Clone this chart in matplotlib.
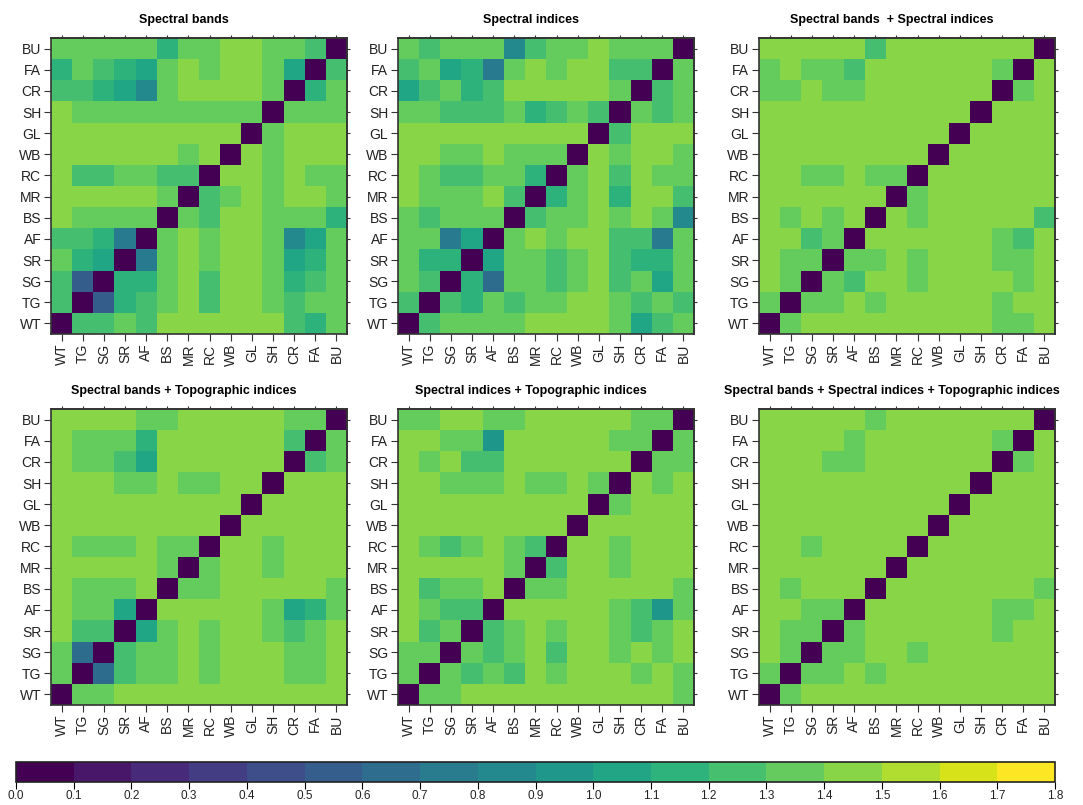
import numpy as np
import matplotlib.pyplot as plt
from matplotlib.colors import ListedColormap, BoundaryNorm

plt.rcParams['font.family'] = ['Liberation Sans', 'DejaVu Sans']

classes = ["WT", "TG", "SG", "SR", "AF", "BS", "MR", "RC", "WB", "GL", "SH", "CR", "FA", "BU"]

titles = ["Spectral bands", "Spectral indices", "Spectral bands  + Spectral indices",
          "Spectral bands + Topographic indices", "Spectral indices + Topographic indices",
          "Spectral bands + Spectral indices + Topographic indices"]

# rows listed top to bottom: BU, FA, CR, SH, GL, WB, RC, MR, BS, AF, SR, SG, TG, WT
bands = [
    [1.35, 1.35, 1.35, 1.35, 1.35, 1.15, 1.35, 1.35, 1.45, 1.45, 1.35, 1.35, 1.25, 0.05],
    [1.15, 1.35, 1.25, 1.15, 1.05, 1.35, 1.45, 1.35, 1.45, 1.45, 1.35, 1.05, 0.05, 1.25],
    [1.25, 1.25, 1.15, 1.05, 0.85, 1.35, 1.45, 1.45, 1.45, 1.45, 1.35, 0.05, 1.15, 1.35],
    [1.45, 1.35, 1.35, 1.35, 1.35, 1.35, 1.35, 1.35, 1.35, 1.35, 0.05, 1.35, 1.35, 1.35],
    [1.45, 1.45, 1.45, 1.45, 1.45, 1.45, 1.45, 1.45, 1.45, 0.05, 1.35, 1.45, 1.45, 1.45],
    [1.45, 1.45, 1.45, 1.45, 1.45, 1.45, 1.35, 1.45, 0.05, 1.45, 1.35, 1.45, 1.45, 1.45],
    [1.45, 1.25, 1.25, 1.35, 1.35, 1.25, 1.25, 0.05, 1.45, 1.45, 1.35, 1.45, 1.35, 1.35],
    [1.45, 1.45, 1.45, 1.45, 1.45, 1.35, 0.05, 1.25, 1.35, 1.45, 1.35, 1.45, 1.45, 1.35],
    [1.45, 1.35, 1.35, 1.35, 1.35, 0.05, 1.35, 1.25, 1.45, 1.45, 1.35, 1.35, 1.35, 1.15],
    [1.25, 1.25, 1.15, 0.75, 0.05, 1.35, 1.45, 1.35, 1.45, 1.45, 1.35, 0.85, 1.05, 1.35],
    [1.35, 1.15, 1.05, 0.05, 0.75, 1.35, 1.45, 1.35, 1.45, 1.45, 1.35, 1.05, 1.15, 1.35],
    [1.25, 0.55, 0.05, 1.15, 1.15, 1.35, 1.45, 1.25, 1.45, 1.45, 1.35, 1.15, 1.25, 1.35],
    [1.25, 0.05, 0.55, 1.15, 1.25, 1.35, 1.45, 1.25, 1.45, 1.45, 1.35, 1.25, 1.35, 1.35],
    [0.05, 1.25, 1.25, 1.35, 1.25, 1.45, 1.45, 1.45, 1.45, 1.45, 1.45, 1.25, 1.15, 1.35],
]

indices = [
    [1.35, 1.25, 1.35, 1.35, 1.35, 0.85, 1.25, 1.35, 1.35, 1.45, 1.35, 1.35, 1.35, 0.05],
    [1.25, 1.35, 1.05, 1.15, 0.75, 1.35, 1.45, 1.35, 1.45, 1.45, 1.25, 1.25, 0.05, 1.35],
    [1.05, 1.25, 1.35, 1.15, 1.25, 1.45, 1.45, 1.45, 1.45, 1.45, 1.35, 0.05, 1.25, 1.35],
    [1.35, 1.35, 1.25, 1.25, 1.25, 1.35, 1.15, 1.25, 1.35, 1.25, 0.05, 1.35, 1.25, 1.35],
    [1.45, 1.45, 1.45, 1.45, 1.45, 1.45, 1.45, 1.45, 1.45, 0.05, 1.25, 1.45, 1.45, 1.45],
    [1.45, 1.45, 1.35, 1.35, 1.45, 1.35, 1.35, 1.35, 0.05, 1.45, 1.35, 1.45, 1.45, 1.35],
    [1.45, 1.35, 1.25, 1.25, 1.35, 1.35, 1.15, 0.05, 1.35, 1.45, 1.25, 1.45, 1.35, 1.35],
    [1.45, 1.35, 1.35, 1.35, 1.45, 1.25, 0.05, 1.15, 1.35, 1.45, 1.15, 1.45, 1.45, 1.25],
    [1.35, 1.25, 1.35, 1.35, 1.35, 0.05, 1.25, 1.35, 1.35, 1.45, 1.35, 1.45, 1.35, 0.85],
    [1.35, 1.35, 0.75, 1.05, 0.05, 1.35, 1.45, 1.35, 1.45, 1.45, 1.25, 1.25, 0.75, 1.35],
    [1.35, 1.15, 1.15, 0.05, 1.05, 1.35, 1.35, 1.25, 1.35, 1.45, 1.25, 1.15, 1.15, 1.35],
    [1.35, 1.25, 0.05, 1.15, 0.65, 1.35, 1.35, 1.25, 1.35, 1.45, 1.25, 1.35, 1.05, 1.35],
    [1.25, 0.05, 1.25, 1.15, 1.35, 1.25, 1.35, 1.35, 1.45, 1.45, 1.35, 1.25, 1.35, 1.25],
    [0.05, 1.25, 1.35, 1.35, 1.35, 1.35, 1.45, 1.45, 1.45, 1.45, 1.35, 1.05, 1.25, 1.35],
]

bands_indices = [
    [1.45, 1.45, 1.45, 1.45, 1.45, 1.25, 1.45, 1.45, 1.45, 1.45, 1.45, 1.45, 1.45, 0.05],
    [1.35, 1.45, 1.35, 1.35, 1.25, 1.45, 1.45, 1.45, 1.45, 1.45, 1.45, 1.35, 0.05, 1.45],
    [1.35, 1.35, 1.45, 1.35, 1.35, 1.45, 1.45, 1.45, 1.45, 1.45, 1.45, 0.05, 1.35, 1.45],
    [1.45, 1.45, 1.45, 1.45, 1.45, 1.45, 1.45, 1.45, 1.45, 1.45, 0.05, 1.45, 1.45, 1.45],
    [1.45, 1.45, 1.45, 1.45, 1.45, 1.45, 1.45, 1.45, 1.45, 0.05, 1.45, 1.45, 1.45, 1.45],
    [1.45, 1.45, 1.45, 1.45, 1.45, 1.45, 1.45, 1.45, 0.05, 1.45, 1.45, 1.45, 1.45, 1.45],
    [1.45, 1.45, 1.35, 1.35, 1.45, 1.35, 1.35, 0.05, 1.45, 1.45, 1.45, 1.45, 1.45, 1.45],
    [1.45, 1.45, 1.45, 1.45, 1.45, 1.45, 0.05, 1.35, 1.45, 1.45, 1.45, 1.45, 1.45, 1.45],
    [1.45, 1.35, 1.45, 1.35, 1.45, 0.05, 1.45, 1.35, 1.45, 1.45, 1.45, 1.45, 1.45, 1.25],
    [1.45, 1.45, 1.25, 1.35, 0.05, 1.45, 1.45, 1.45, 1.45, 1.45, 1.45, 1.35, 1.25, 1.45],
    [1.45, 1.35, 1.35, 0.05, 1.35, 1.35, 1.45, 1.35, 1.45, 1.45, 1.45, 1.35, 1.35, 1.45],
    [1.45, 1.35, 0.05, 1.35, 1.25, 1.45, 1.45, 1.35, 1.45, 1.45, 1.45, 1.45, 1.35, 1.45],
    [1.35, 0.05, 1.35, 1.35, 1.45, 1.35, 1.45, 1.45, 1.45, 1.45, 1.45, 1.35, 1.45, 1.45],
    [0.05, 1.35, 1.45, 1.45, 1.45, 1.45, 1.45, 1.45, 1.45, 1.45, 1.45, 1.35, 1.35, 1.45],
]

bands_topo = [
    [1.45, 1.45, 1.45, 1.45, 1.35, 1.35, 1.45, 1.45, 1.45, 1.45, 1.45, 1.35, 1.35, 0.05],
    [1.45, 1.35, 1.35, 1.35, 1.15, 1.45, 1.45, 1.45, 1.45, 1.45, 1.45, 1.25, 0.05, 1.35],
    [1.45, 1.35, 1.35, 1.25, 1.05, 1.45, 1.45, 1.45, 1.45, 1.45, 1.45, 0.05, 1.25, 1.35],
    [1.45, 1.45, 1.45, 1.35, 1.35, 1.45, 1.35, 1.35, 1.45, 1.45, 0.05, 1.45, 1.45, 1.45],
    [1.45, 1.45, 1.45, 1.45, 1.45, 1.45, 1.45, 1.45, 1.45, 0.05, 1.45, 1.45, 1.45, 1.45],
    [1.45, 1.45, 1.45, 1.45, 1.45, 1.45, 1.45, 1.45, 0.05, 1.45, 1.45, 1.45, 1.45, 1.45],
    [1.45, 1.35, 1.35, 1.35, 1.45, 1.35, 1.35, 0.05, 1.45, 1.45, 1.35, 1.45, 1.45, 1.45],
    [1.45, 1.45, 1.45, 1.45, 1.45, 1.35, 0.05, 1.35, 1.45, 1.45, 1.35, 1.45, 1.45, 1.45],
    [1.45, 1.35, 1.35, 1.35, 1.45, 0.05, 1.35, 1.35, 1.45, 1.45, 1.45, 1.45, 1.45, 1.35],
    [1.45, 1.35, 1.35, 1.05, 0.05, 1.45, 1.45, 1.45, 1.45, 1.45, 1.35, 1.05, 1.15, 1.35],
    [1.45, 1.25, 1.25, 0.05, 1.05, 1.35, 1.45, 1.35, 1.45, 1.45, 1.35, 1.25, 1.35, 1.45],
    [1.35, 0.65, 0.05, 1.25, 1.35, 1.35, 1.45, 1.35, 1.45, 1.45, 1.45, 1.35, 1.35, 1.45],
    [1.35, 0.05, 0.65, 1.25, 1.35, 1.35, 1.45, 1.35, 1.45, 1.45, 1.45, 1.35, 1.35, 1.45],
    [0.05, 1.35, 1.35, 1.45, 1.45, 1.45, 1.45, 1.45, 1.45, 1.45, 1.45, 1.45, 1.45, 1.45],
]

indices_topo = [
    [1.35, 1.35, 1.45, 1.45, 1.35, 1.35, 1.45, 1.45, 1.45, 1.45, 1.45, 1.35, 1.35, 0.05],
    [1.45, 1.45, 1.35, 1.35, 0.95, 1.45, 1.45, 1.45, 1.45, 1.45, 1.35, 1.35, 0.05, 1.35],
    [1.45, 1.35, 1.45, 1.25, 1.25, 1.45, 1.45, 1.45, 1.45, 1.45, 1.45, 0.05, 1.35, 1.35],
    [1.45, 1.45, 1.35, 1.35, 1.35, 1.45, 1.35, 1.35, 1.45, 1.35, 0.05, 1.45, 1.35, 1.45],
    [1.45, 1.45, 1.45, 1.45, 1.45, 1.45, 1.45, 1.45, 1.45, 0.05, 1.35, 1.45, 1.45, 1.45],
    [1.45, 1.45, 1.45, 1.45, 1.45, 1.45, 1.45, 1.45, 0.05, 1.45, 1.45, 1.45, 1.45, 1.45],
    [1.45, 1.35, 1.25, 1.35, 1.45, 1.35, 1.25, 0.05, 1.45, 1.45, 1.35, 1.45, 1.45, 1.45],
    [1.45, 1.45, 1.45, 1.45, 1.45, 1.35, 0.05, 1.25, 1.45, 1.45, 1.35, 1.45, 1.45, 1.45],
    [1.45, 1.25, 1.35, 1.35, 1.45, 0.05, 1.35, 1.35, 1.45, 1.45, 1.45, 1.45, 1.45, 1.35],
    [1.45, 1.35, 1.25, 1.25, 0.05, 1.45, 1.45, 1.45, 1.45, 1.45, 1.35, 1.25, 0.95, 1.35],
    [1.45, 1.25, 1.35, 0.05, 1.25, 1.35, 1.45, 1.35, 1.45, 1.45, 1.35, 1.25, 1.35, 1.45],
    [1.35, 1.35, 0.05, 1.35, 1.25, 1.35, 1.45, 1.25, 1.45, 1.45, 1.35, 1.45, 1.35, 1.45],
    [1.35, 0.05, 1.35, 1.25, 1.35, 1.25, 1.45, 1.35, 1.45, 1.45, 1.45, 1.35, 1.45, 1.35],
    [0.05, 1.35, 1.35, 1.45, 1.45, 1.45, 1.45, 1.45, 1.45, 1.45, 1.45, 1.45, 1.45, 1.35],
]

all_features = [
    [1.45, 1.45, 1.45, 1.45, 1.45, 1.35, 1.45, 1.45, 1.45, 1.45, 1.45, 1.45, 1.45, 0.05],
    [1.45, 1.45, 1.45, 1.45, 1.35, 1.45, 1.45, 1.45, 1.45, 1.45, 1.45, 1.35, 0.05, 1.45],
    [1.45, 1.45, 1.45, 1.35, 1.35, 1.45, 1.45, 1.45, 1.45, 1.45, 1.45, 0.05, 1.35, 1.45],
    [1.45, 1.45, 1.45, 1.45, 1.45, 1.45, 1.45, 1.45, 1.45, 1.45, 0.05, 1.45, 1.45, 1.45],
    [1.45, 1.45, 1.45, 1.45, 1.45, 1.45, 1.45, 1.45, 1.45, 0.05, 1.45, 1.45, 1.45, 1.45],
    [1.45, 1.45, 1.45, 1.45, 1.45, 1.45, 1.45, 1.45, 0.05, 1.45, 1.45, 1.45, 1.45, 1.45],
    [1.45, 1.45, 1.35, 1.45, 1.45, 1.45, 1.45, 0.05, 1.45, 1.45, 1.45, 1.45, 1.45, 1.45],
    [1.45, 1.45, 1.45, 1.45, 1.45, 1.45, 0.05, 1.45, 1.45, 1.45, 1.45, 1.45, 1.45, 1.45],
    [1.45, 1.35, 1.45, 1.45, 1.45, 0.05, 1.45, 1.45, 1.45, 1.45, 1.45, 1.45, 1.45, 1.35],
    [1.45, 1.45, 1.35, 1.35, 0.05, 1.45, 1.45, 1.45, 1.45, 1.45, 1.45, 1.35, 1.35, 1.45],
    [1.45, 1.35, 1.35, 0.05, 1.35, 1.45, 1.45, 1.45, 1.45, 1.45, 1.45, 1.35, 1.45, 1.45],
    [1.45, 1.35, 0.05, 1.35, 1.35, 1.45, 1.45, 1.35, 1.45, 1.45, 1.45, 1.45, 1.45, 1.45],
    [1.35, 0.05, 1.35, 1.35, 1.45, 1.35, 1.45, 1.45, 1.45, 1.45, 1.45, 1.45, 1.45, 1.45],
    [0.05, 1.35, 1.45, 1.45, 1.45, 1.45, 1.45, 1.45, 1.45, 1.45, 1.45, 1.45, 1.45, 1.45],
]

matrices = [bands, indices, bands_indices, bands_topo, indices_topo, all_features]

levels = np.round(np.arange(0, 1.81, 0.1), 1)
cmap = ListedColormap(plt.cm.viridis(np.linspace(0, 1, len(levels) - 1)))
norm = BoundaryNorm(levels, cmap.N)

W, H = 1083, 805
fig = plt.figure(figsize=(W / 100, H / 100), dpi=100)

lefts = [51, 398, 759]
tops = [38, 409]
size = 296
frame = "#333333"
ticks = range(len(classes))

for k, (mat, title) in enumerate(zip(matrices, titles)):
    l = lefts[k % 3]
    t = tops[k // 3]
    ax = fig.add_axes([l / W, 1 - (t + size) / H, size / W, size / H])
    im = ax.imshow(np.array(mat), cmap=cmap, norm=norm, aspect='auto',
                   interpolation='nearest')
    ax.set_xticks(ticks)
    ax.set_xticklabels(classes, rotation=90, fontsize=10)
    ax.set_yticks(ticks)
    ax.set_yticklabels(classes[::-1], fontsize=10)
    ax.tick_params(direction='out', length=5, width=0.8, color=frame, pad=2,
                   labelcolor='#222222')
    # short ticks on the top and right edges, like lattice
    top = ax.secondary_xaxis('top')
    top.set_xticks(ticks)
    top.set_xticklabels([])
    top.tick_params(length=2.5, width=0.8, color=frame)
    right = ax.secondary_yaxis('right')
    right.set_yticks(ticks)
    right.set_yticklabels([])
    right.tick_params(length=2.5, width=0.8, color=frame)
    for a in (ax, top, right):
        for sp in a.spines.values():
            sp.set_color(frame)
            sp.set_linewidth(1.2)
    fig.text((l + size / 2 - 15) / W, 1 - (t - 18) / H, title, ha='center',
             va='center', fontsize=9, fontweight='bold')

cax = fig.add_axes([16 / W, 1 - 782 / H, (1055 - 16) / W, 20 / H])
cb = fig.colorbar(im, cax=cax, orientation='horizontal', ticks=levels)
cb.ax.set_xticklabels([f"{v:.1f}" for v in levels], fontsize=8.5)
cb.ax.tick_params(length=5, width=0.8, pad=1, labelcolor='#222222')
cb.outline.set_linewidth(1.2)
cb.outline.set_edgecolor('#222222')

fig.savefig("out.png", dpi=100)
